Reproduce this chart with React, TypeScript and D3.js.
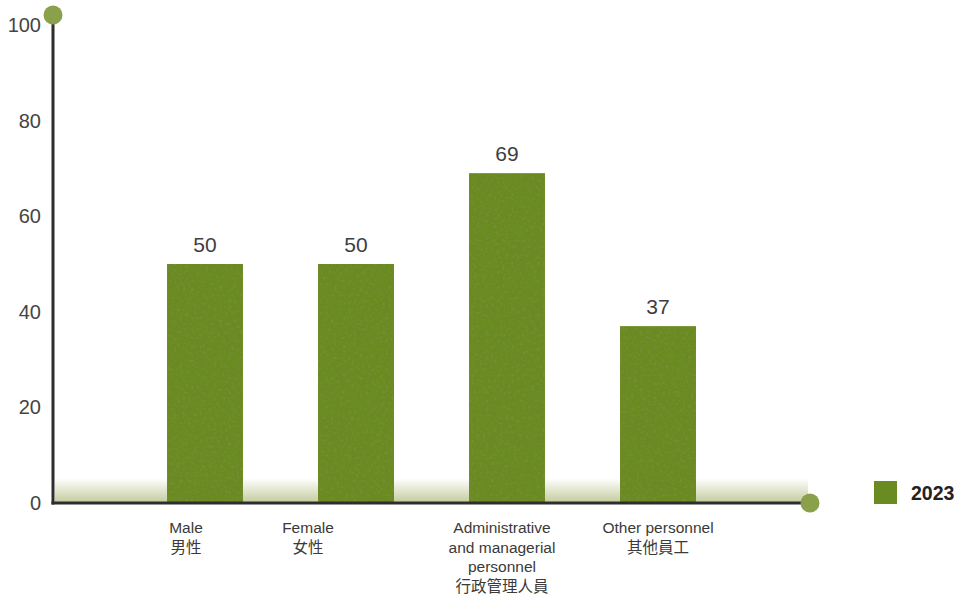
import React from "react";
import * as d3 from "d3";

const categories = ["Male", "Female", "Admin", "Other"];
const values = [50, 50, 69, 37];
const labelLines = [
  ["Male", "男性"],
  ["Female", "女性"],
  ["Administrative", "and managerial", "personnel", "行政管理人員"],
  ["Other personnel", "其他員工"],
];
const labelShift = [-19, -48, -5, 0];
const yTicks = [0, 20, 40, 60, 80, 100];
const legendLabel = "2023";

const W = 960;
const H = 598;
const x0 = 53;
const xEnd = 810;
const y = d3.scaleLinear().domain([0, 100]).range([503, 25]);
const x = d3
  .scaleBand<string>()
  .domain(categories)
  .range([129.5, 733.5])
  .paddingInner(0.497)
  .paddingOuter(0.2485);

const green = "#6a8a22";
const font = "'Liberation Sans', Arial, 'Noto Sans CJK TC', sans-serif";

export default function App() {
  const bw = x.bandwidth();
  return (
    <svg
      width={W}
      height={H}
      style={{ position: "absolute", left: 0, top: 0, background: "#fff" }}
      fontFamily={font}
    >
      <defs>
        <linearGradient id="band" x1="0" y1="0" x2="0" y2="1">
          <stop offset="0" stopColor="#ffffff" />
          <stop offset="1" stopColor="#c3cb9c" />
        </linearGradient>
        <filter id="tex" x="0" y="0" width="1" height="1">
          <feTurbulence type="fractalNoise" baseFrequency="0.35" numOctaves="2" seed="3" result="n" />
          <feColorMatrix
            in="n"
            type="matrix"
            values="0 0 0 0 0.2  0 0 0 0 0.28  0 0 0 0 0.05  0 0 0 -2.2 1.1"
            result="spots"
          />
          <feComposite in="spots" in2="SourceGraphic" operator="in" result="sp" />
          <feMerge>
            <feMergeNode in="SourceGraphic" />
            <feMergeNode in="sp" />
          </feMerge>
        </filter>
      </defs>
      <rect x={x0 + 2} y={y(5.2)} width={xEnd - x0 - 4} height={y(0) - y(5.2)} fill="url(#band)" />
      {categories.map((c, i) => (
        <g key={c}>
          <rect
            x={x(c)}
            y={y(values[i])}
            width={bw}
            height={y(0) - y(values[i])}
            fill={green}
            filter="url(#tex)"
          />
          <text
            x={x(c)! + bw / 2}
            y={y(values[i]) - 12.5}
            textAnchor="middle"
            fontSize={21}
            fill="#3e3e3e"
          >
            {values[i]}
          </text>
          {labelLines[i].map((t, j) => (
            <text
              key={j}
              x={x(c)! + bw / 2 + labelShift[i]}
              y={533 + j * 19.5}
              textAnchor="middle"
              fontSize={15.5}
              fill="#3a3a3a"
            >
              {t}
            </text>
          ))}
        </g>
      ))}
      {yTicks.map((t) => (
        <text
          key={t}
          x={41}
          y={y(t) + 7}
          textAnchor="end"
          fontSize={20}
          fill="#444"
        >
          {t}
        </text>
      ))}
      <line x1={x0} y1={15} x2={x0} y2={y(0) + 1.5} stroke="#2e2e2e" strokeWidth={3} />
      <line x1={x0 - 1.5} y1={y(0)} x2={xEnd} y2={y(0)} stroke="#2e2e2e" strokeWidth={3} />
      <circle cx={x0} cy={15} r={9.5} fill="#8aa04b" />
      <circle cx={xEnd} cy={y(0)} r={9.5} fill="#8aa04b" />
      <rect x={874} y={481} width={23} height={23} fill={green} />
      <text x={911} y={500} fontSize={19.5} fontWeight="bold" fill="#222">
        {legendLabel}
      </text>
    </svg>
  );
}
